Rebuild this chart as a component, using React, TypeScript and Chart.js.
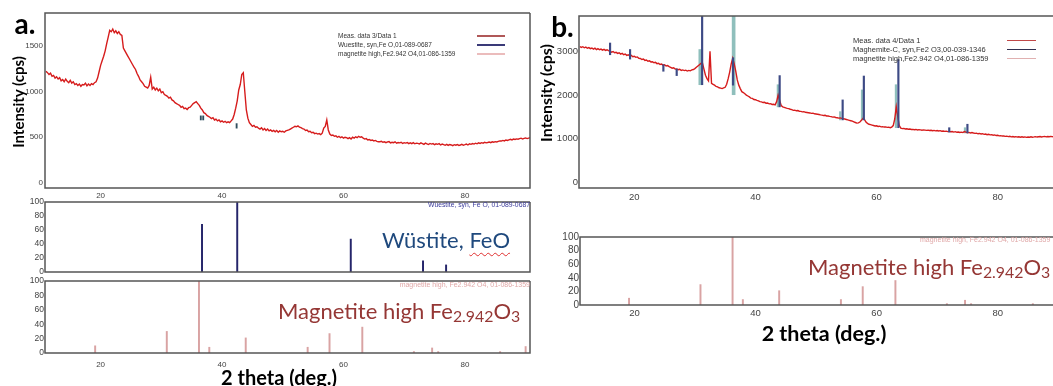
import React, { useEffect, useRef } from "react";
import { Chart, registerables } from "chart.js";

Chart.register(...registerables);
Chart.defaults.font.family = "Liberation Sans";

// ---------- data ----------
const SCAN_START = 11;
const SCAN_STEP = 0.25;

// panel a: measured intensity (cps), one value per 0.25 deg from 11 deg
const measA: number[] = [
  1225, 1210, 1190, 1205, 1170, 1180, 1150, 1165, 1140, 1155, 1120, 1135, 1110, 1140, 1115, 1100, 1125, 1095, 1110, 1080,
  1090, 1070, 1085, 1060, 1080, 1075, 1095, 1065, 1085, 1070, 1090, 1080, 1100, 1110, 1150, 1220, 1290, 1340, 1390, 1450,
  1530, 1600, 1675, 1660, 1690, 1650, 1670, 1640, 1660, 1630, 1620, 1480, 1450, 1420, 1390, 1360, 1330, 1300, 1270, 1245,
  1200, 1170, 1130, 1110, 1090, 1060, 1050, 1040, 1070, 1160, 1030, 1050, 1020, 1040, 1010, 1030, 990, 1000, 970, 960,
  950, 930, 940, 910, 900, 880, 870, 860, 850, 830, 840, 815, 820, 805, 825, 830, 850, 870, 880, 890,
  870, 850, 820, 800, 770, 760, 740, 730, 720, 705, 715, 690, 700, 680, 690, 670, 680, 665, 675, 660,
  670, 660, 680, 700, 750, 820, 900, 1020, 1080, 1190, 1210, 1000, 800, 710, 660, 640, 620, 630, 610, 615,
  600, 590, 605, 580, 595, 575, 590, 570, 580, 565, 575, 560, 575, 555, 570, 560, 565, 555, 570, 575,
  580, 590, 600, 610, 620, 615, 625, 610, 605, 595, 590, 575, 580, 560, 565, 550, 555, 540, 545, 535,
  540, 530, 545, 600, 620, 690, 580, 535, 520, 525, 510, 515, 500, 510, 495, 505, 490, 500, 495, 485,
  495, 480, 500, 490, 505, 495, 510, 500, 505, 490, 480, 485, 470, 475, 465, 470, 460, 465, 455, 450,
  450, 455, 445, 450, 440, 448, 452, 438, 445, 440, 450, 435, 442, 438, 445, 432, 440, 436, 442, 430,
  438, 430, 440, 428, 435, 432, 425, 438, 430, 422, 435, 428, 420, 432, 425, 430, 418, 428, 422, 430,
  415, 425, 418, 412, 422, 410, 420, 415, 408, 418, 412, 420, 410, 415, 422, 412, 418, 425, 415, 428,
  422, 430, 425, 435, 428, 438, 432, 440, 435, 445, 438, 442, 448, 440, 450, 445, 452, 448, 455, 460,
  458, 465, 460, 470, 465, 472, 478, 470, 480, 475, 482, 478, 485, 490, 480, 488, 492, 485, 490, 495,
];

// panel b: measured intensity (cps), one value per 0.25 deg from 11 deg
const measB: number[] = [
  3120, 3100, 3115, 3090, 3105, 3080, 3095, 3070, 3085, 3060, 3080, 3050, 3070, 3045, 3060, 3035, 3055, 3030, 3045, 3025,
  3010, 2990, 3005, 2975, 2985, 2960, 2975, 2945, 2960, 2930, 2945, 2915, 2930, 2900, 2915, 2885, 2895, 2870, 2880, 2850,
  2845, 2820, 2830, 2800, 2810, 2780, 2790, 2765, 2770, 2745, 2755, 2725, 2735, 2705, 2715, 2690, 2700, 2670, 2680, 2655,
  2640, 2620, 2630, 2600, 2605, 2585, 2595, 2570, 2580, 2565, 2575, 2555, 2570, 2560, 2580, 2590, 2610, 2640, 2670, 2700,
  2730, 2740, 2600, 2460, 2380, 2330, 3010, 2270, 2250, 2230, 2200, 2190, 2170, 2160, 2150, 2165, 2180, 2250, 2380, 2530,
  2720, 2850, 2720, 2550, 2350, 2230, 2150, 2080, 2060, 2030, 2000, 1980, 1960, 1930, 1925, 1900, 1895, 1880, 1870, 1850,
  1845, 1830, 1835, 1815, 1820, 1800, 1805, 1785, 1790, 1775, 1850, 2000, 1880, 1760, 1730, 1720, 1705, 1695, 1690, 1675,
  1665, 1650, 1655, 1640, 1645, 1630, 1625, 1615, 1620, 1605, 1600, 1595, 1590, 1580, 1585, 1570, 1565, 1560, 1555, 1545,
  1540, 1530, 1535, 1520, 1520, 1510, 1505, 1495, 1500, 1485, 1480, 1470, 1475, 1465, 1455, 1450, 1440, 1430, 1420, 1410,
  1400, 1385, 1370, 1355, 1360, 1380, 1420, 1465, 1440, 1380, 1350, 1330, 1320, 1310, 1300, 1290, 1295, 1280, 1285, 1270,
  1275, 1265, 1270, 1258, 1262, 1250, 1265, 1300, 1450, 1730, 1500, 1300, 1240, 1230, 1235, 1220, 1225, 1215, 1220, 1210,
  1212, 1205, 1210, 1198, 1205, 1200, 1192, 1200, 1195, 1188, 1195, 1185, 1192, 1180, 1188, 1178, 1185, 1175, 1182, 1170,
  1175, 1165, 1172, 1160, 1165, 1158, 1162, 1150, 1160, 1145, 1152, 1140, 1148, 1138, 1160, 1150, 1135, 1142, 1130, 1138,
  1128, 1120, 1125, 1110, 1118, 1105, 1112, 1098, 1105, 1090, 1098, 1085, 1090, 1078, 1085, 1070, 1075, 1062, 1068, 1058,
  1060, 1050, 1055, 1045, 1052, 1040, 1048, 1038, 1045, 1035, 1042, 1032, 1040, 1030, 1038, 1028, 1036, 1030, 1040, 1032,
  1038, 1045, 1035, 1042, 1048, 1038, 1045, 1050, 1040, 1048, 1042, 1050, 1045, 1038, 1046, 1040, 1048, 1042, 1050, 1045,
];

// reference patterns (relative intensity, %)
const wustitePos = [36.7, 42.5, 61.2, 73.1, 76.9];
const wustiteInt = [68, 100, 47, 16, 10];
const magnetitePos = [19.1, 30.9, 36.2, 37.9, 43.9, 54.1, 57.7, 63.1, 71.6, 74.6, 75.6, 85.8, 90.0];
const magnetiteInt = [10, 30, 100, 8, 21, 8, 27, 36, 2, 7, 2, 2, 9];

// phase markers drawn on panel a (cps range)
const aMarkPos = [36.5, 36.9, 42.4];
const aMarkLow = [690, 690, 600];
const aMarkHigh = [735, 735, 650];

// phase markers drawn on panel b (cps range)
const maghPos = [16.0, 19.3, 24.8, 27.0, 31.2, 36.3, 44.0, 54.4, 57.9, 63.6, 72.0, 75.0];
const maghLow = [2930, 2830, 2550, 2450, 2240, 2230, 1730, 1430, 1430, 1250, 1150, 1130];
const maghHigh = [3200, 3050, 2700, 2600, 3830, 2860, 2450, 1890, 2440, 2820, 1250, 1330];
const tealWidePos = [30.9, 36.4];
const tealWideLow = [2240, 2010];
const tealWideHigh = [3050, 3830];
const tealPos = [43.7, 54.0, 57.6, 63.2, 74.6];
const tealLow = [1730, 1430, 1430, 1250, 1130];
const tealHigh = [2240, 1620, 2120, 2240, 1250];

const xTickVals = [20, 40, 60, 80];
const yTicksA = [0, 500, 1000, 1500];
const yTicksB = [0, 1000, 2000, 3000];
const yTicksRef = [0, 20, 40, 60, 80, 100];

// ---------- helpers ----------
const scan = (vals: number[]) => vals.map((v, i) => ({ x: SCAN_START + i * SCAN_STEP, y: v }));
const sticks = (pos: number[], h: number[]) => pos.map((p, i) => ({ x: p, y: h[i] }));
const ranges = (pos: number[], lo: number[], hi: number[]) => pos.map((p, i) => ({ x: p, y: [lo[i], hi[i]] }));

const lineDs = (vals: number[], order: number) => ({
  type: "line",
  data: scan(vals),
  borderColor: "#d61c1c",
  borderWidth: 1.4,
  pointRadius: 0,
  tension: 0,
  order,
});
const barDs = (data: any[], color: string, thick: number, order: number) => ({
  type: "bar",
  data,
  backgroundColor: color,
  borderWidth: 0,
  barThickness: thick,
  grouped: false,
  order,
});

const boxPlugin: any = {
  id: "box",
  afterDatasetsDraw(chart: any, _a: any, opts: any) {
    const { ctx, chartArea: a } = chart;
    ctx.save();
    ctx.strokeStyle = "#555";
    ctx.lineWidth = 1.5;
    ctx.beginPath();
    ctx.moveTo(a.right, a.top);
    ctx.lineTo(a.left, a.top);
    ctx.lineTo(a.left, a.bottom);
    ctx.lineTo(a.right, a.bottom);
    if (opts.right) ctx.lineTo(a.right, a.top);
    ctx.stroke();
    ctx.restore();
  },
};

type PanelCfg = {
  canvas: [number, number, number, number];
  plot: [number, number, number, number];
  xRange: [number, number];
  yRange: [number, number];
  yTicks: number[];
  showX: boolean;
  xFont: number;
  yFont: number;
  xPad: number;
  yPad: number;
  rightBorder: boolean;
  datasets: any[];
};

function Panel({ cfg }: { cfg: PanelCfg }) {
  const ref = useRef<HTMLCanvasElement>(null);
  const [cl, ct, cw, ch] = cfg.canvas;
  useEffect(() => {
    const [pl, pt, pr, pb] = cfg.plot;
    const chart = new Chart(ref.current as HTMLCanvasElement, {
      type: "line",
      data: { datasets: cfg.datasets },
      options: {
        responsive: false,
        animation: false,
        events: [],
        layout: { padding: { left: 0, top: pt - ct, right: cl + cw - pr, bottom: 0 } },
        plugins: {
          legend: { display: false },
          tooltip: { enabled: false },
          box: { right: cfg.rightBorder },
        } as any,
        scales: {
          x: {
            type: "linear",
            min: cfg.xRange[0],
            max: cfg.xRange[1],
            offset: false,
            grid: { display: false, drawTicks: false },
            border: { display: false },
            ticks: {
              display: cfg.showX,
              color: "#444",
              font: { size: cfg.xFont },
              padding: cfg.xPad,
              maxRotation: 0,
              autoSkip: false,
              callback: (v: any) => String(v),
            },
            afterBuildTicks: (s: any) => {
              s.ticks = xTickVals.map((v) => ({ value: v }));
            },
            afterFit: (s: any) => {
              s.height = ct + ch - pb;
            },
          },
          y: {
            type: "linear",
            min: cfg.yRange[0],
            max: cfg.yRange[1],
            grid: { display: false, drawTicks: false },
            border: { display: false },
            ticks: {
              color: "#444",
              font: { size: cfg.yFont },
              padding: cfg.yPad,
              autoSkip: false,
              callback: (v: any) => String(v),
            },
            afterBuildTicks: (s: any) => {
              s.ticks = cfg.yTicks.map((v) => ({ value: v }));
            },
            afterFit: (s: any) => {
              s.width = pl - cl;
            },
          },
        } as any,
      } as any,
      plugins: [boxPlugin],
    } as any);
    return () => chart.destroy();
  }, []);
  return (
    <canvas
      ref={ref}
      width={cw}
      height={ch}
      style={{ position: "absolute", left: cl, top: ct, width: cw, height: ch }}
    />
  );
}

function T(p: {
  x: number;
  y: number;
  align?: "left" | "center" | "right";
  rot?: boolean;
  style?: React.CSSProperties;
  children: React.ReactNode;
}) {
  const tx = p.align === "left" ? "0" : p.align === "right" ? "-100%" : "-50%";
  return (
    <div
      style={{
        position: "absolute",
        left: p.x,
        top: p.y,
        transform: `translate(${tx},-50%)${p.rot ? " rotate(-90deg)" : ""}`,
        whiteSpace: "nowrap",
        lineHeight: 1,
        ...p.style,
      }}
    >
      {p.children}
    </div>
  );
}

const LegendLine = ({ x, y, w, color }: { x: number; y: number; w: number; color: string }) => (
  <div style={{ position: "absolute", left: x, top: y - 0.75, width: w, height: 1.5, background: color }} />
);

const bold = (size: number): React.CSSProperties => ({ fontFamily: "Lato", fontWeight: 700, fontSize: size, color: "#000" });
const small = (size: number, color: string): React.CSSProperties => ({ fontFamily: "Liberation Sans", fontSize: size, color });
const sub: React.CSSProperties = { fontSize: "0.72em", position: "relative", top: "0.22em" };

const A_X: [number, number] = [10.84, 90.72];
const B_X: [number, number] = [10.87, 89.13];

export default function App() {
  const panels: PanelCfg[] = [
    {
      canvas: [0, 0, 540, 200],
      plot: [45, 13, 530, 188],
      xRange: A_X,
      yRange: [-58, 1866],
      yTicks: yTicksA,
      showX: true,
      xFont: 8,
      yFont: 8,
      xPad: 3,
      yPad: 2,
      rightBorder: true,
      datasets: [
        lineDs(measA, 2),
        barDs(ranges(aMarkPos, aMarkLow, aMarkHigh), "#2f4f5f", 1.2, 1),
      ],
    },
    {
      canvas: [0, 196, 540, 82],
      plot: [45, 201, 530, 273],
      xRange: A_X,
      yRange: [0, 100],
      yTicks: yTicksRef,
      showX: false,
      xFont: 8,
      yFont: 8.5,
      xPad: 3,
      yPad: 1,
      rightBorder: true,
      datasets: [barDs(sticks(wustitePos, wustiteInt), "#25256a", 1.3, 1)],
    },
    {
      canvas: [0, 275, 540, 100],
      plot: [45, 279, 530, 353],
      xRange: A_X,
      yRange: [0, 100],
      yTicks: yTicksRef,
      showX: true,
      xFont: 8,
      yFont: 8.5,
      xPad: 7,
      yPad: 1,
      rightBorder: true,
      datasets: [barDs(sticks(magnetitePos, magnetiteInt), "#d9a3a3", 1.3, 1)],
    },
    {
      canvas: [540, 0, 513, 210],
      plot: [579, 16, 1053, 188],
      xRange: B_X,
      yRange: [-138, 3822],
      yTicks: yTicksB,
      showX: true,
      xFont: 9.5,
      yFont: 9.5,
      xPad: 4,
      yPad: 1,
      rightBorder: false,
      datasets: [
        barDs(ranges(tealWidePos, tealWideLow, tealWideHigh), "#8fbfbc", 3, 2),
        barDs(ranges(tealPos, tealLow, tealHigh), "#8fbfbc", 1.6, 2),
        lineDs(measB, 1),
        barDs(ranges(maghPos, maghLow, maghHigh), "#3d4a85", 1.5, 0),
      ],
    },
    {
      canvas: [540, 230, 513, 100],
      plot: [580, 236, 1053, 305],
      xRange: [11.0, 89.13],
      yRange: [0, 100],
      yTicks: yTicksRef,
      showX: true,
      xFont: 9.5,
      yFont: 10,
      xPad: 3,
      yPad: 1,
      rightBorder: false,
      datasets: [barDs(sticks(magnetitePos, magnetiteInt), "#d9a3a3", 1.3, 1)],
    },
  ];

  return (
    <div
      style={{
        position: "absolute",
        left: 0,
        top: 0,
        width: 1053,
        height: 386,
        overflow: "hidden",
        background: "#fff",
      }}
    >
      {panels.map((p, i) => (
        <Panel key={i} cfg={p} />
      ))}

      {/* panel a texts */}
      <T x={25} y={22.5} style={bold(28)}>a.</T>
      <T x={18} y={101.5} rot style={bold(15)}>Intensity (cps)</T>
      <T x={279} y={377} style={bold(20)}>2 theta (deg.)</T>
      <T x={382} y={240} align="left" style={{ fontFamily: "Lato", fontSize: 22, color: "#1f497d" }}>
        Wüstite,{" "}
        <span style={{ textDecoration: "underline wavy #e03030", textDecorationThickness: "1px", textUnderlineOffset: "4px" }}>
          FeO
        </span>
      </T>
      <T x={278} y={311} align="left" style={{ fontFamily: "Lato", fontSize: 22, color: "#953735" }}>
        Magnetite high Fe<span style={sub}>2.942</span>O<span style={sub}>3</span>
      </T>
      <T x={530} y={205} align="right" style={small(6.8, "#3b3b9b")}>Wuestite, syn, Fe O, 01-089-0687</T>
      <T x={530} y={284} align="right" style={small(7, "#e0a8a8")}>magnetite high, Fe2.942 O4, 01-086-1359</T>
      <T x={338} y={36} align="left" style={small(6.5, "#333")}>Meas. data 3/Data 1</T>
      <T x={338} y={45} align="left" style={small(6.5, "#333")}>Wuestite, syn,Fe O,01-089-0687</T>
      <T x={338} y={54} align="left" style={small(6.5, "#333")}>magnetite high,Fe2.942 O4,01-086-1359</T>
      <LegendLine x={477} y={36} w={28} color="#b05858" />
      <LegendLine x={477} y={45} w={28} color="#3a3a78" />
      <LegendLine x={477} y={54} w={28} color="#ebbcbc" />

      {/* panel b texts (clipped to its own half) */}
      <div style={{ position: "absolute", left: 540, top: 0, width: 513, height: 386, overflow: "hidden" }}>
        <div style={{ position: "absolute", left: -540, top: 0 }}>
          <T x={562.5} y={26} style={bold(28)}>b.</T>
          <T x={546} y={93} rot style={bold(16)}>Intensity (cps)</T>
          <T x={824} y={334} style={bold(21.5)}>2 theta (deg.)</T>
          <T x={808} y={267} align="left" style={{ fontFamily: "Lato", fontSize: 22, color: "#953735" }}>
            Magnetite high Fe<span style={sub}>2.942</span>O<span style={sub}>3</span>
          </T>
          <T x={920} y={239} align="left" style={small(7, "#e0a8a8")}>magnetite high, Fe2.942 O4, 01-086-1359</T>
          <T x={853} y={40.5} align="left" style={small(7.5, "#333")}>Meas. data 4/Data 1</T>
          <T x={853} y={49.5} align="left" style={small(7.5, "#333")}>Maghemite-C, syn,Fe2 O3,00-039-1346</T>
          <T x={853} y={58.5} align="left" style={small(7.5, "#333")}>magnetite high,Fe2.942 O4,01-086-1359</T>
          <LegendLine x={1007} y={40.5} w={29} color="#c04848" />
          <LegendLine x={1007} y={49.5} w={29} color="#303050" />
          <LegendLine x={1007} y={58.5} w={29} color="#e0b0b0" />
        </div>
      </div>
    </div>
  );
}
